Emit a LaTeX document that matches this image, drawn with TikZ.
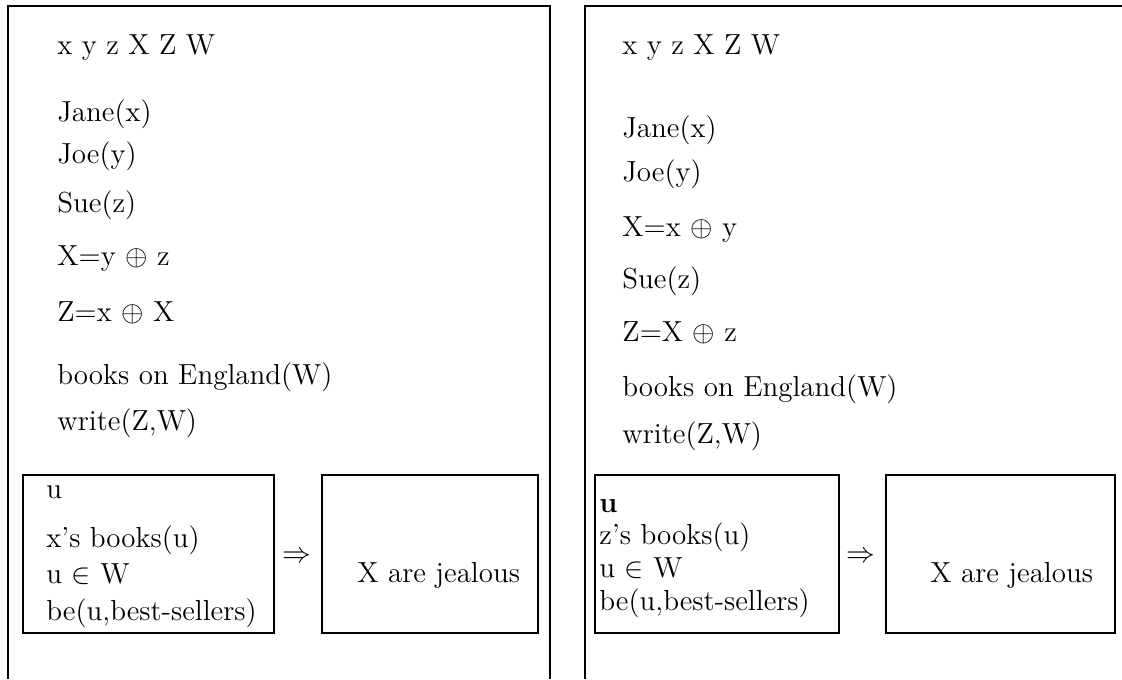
\documentclass[tikz,border=0pt]{standalone}
\usepackage{amsmath,amssymb}
\usetikzlibrary{positioning}
\newcommand{\drsfont}{\fontsize{14.5}{17}\selectfont}
\tikzset{
  panel/.style={line width=1.1pt},
  subbox/.style={draw, line width=1.1pt, inner sep=0pt, anchor=north west},
  cond/.style={anchor=base west, inner sep=0pt},
  every node/.style={font=\drsfont}
}

\begin{document}
\begin{tikzpicture}[x=0.5pt, y=-0.5pt]
    \useasboundingbox (0,0) rectangle (1122,679);
    % left DRS
    \draw[panel] (8,679) -- (8,6) -- (550,6) -- (550,679);
    \node[cond] (lu) at (57,55) {x y z X Z W};
    \node[cond] (l1) at (57,122) {Jane(x)};
    \node[cond] (l2) at (57,164) {Joe(y)};
    \node[cond] (l3) at (57,213) {Sue(z)};
    \node[cond] (l4) at (57,265) {X=y $\oplus$ z};
    \node[cond] (l5) at (57,321) {Z=x $\oplus$ X};
    \node[cond] (l6) at (57,384) {books on England(W)};
    \node[cond] (l7) at (57,430) {write(Z,W)};
    \node[subbox, minimum width=125.5pt, minimum height=79pt] (lant) at (22,474) {};
    \node[subbox, minimum width=108pt, minimum height=79pt] (lcons) at (321,474) {};
    \node[cond] (la0) at (46,498) {u};
    \node[cond] (la1) at (46,547) {x's books(u)};
    \node[cond] (la2) at (46,583) {u $\in$ W};
    \node[cond] (la3) at (46,620) {be(u,best-sellers)};
    \node (limp) at (297,557) {$\Rightarrow$};
    \node[cond] (lc1) at (357,582) {X are jealous};
    % right DRS
    \draw[panel] (585,679) -- (585,6) -- (1122,6);
    \node[cond] (ru) at (622,55) {x y z X Z W};
    \node[cond] (r1) at (622,138) {Jane(x)};
    \node[cond] (r2) at (622,182) {Joe(y)};
    \node[cond] (r3) at (622,236) {X=x $\oplus$ y};
    \node[cond] (r4) at (622,288) {Sue(z)};
    \node[cond] (r5) at (622,341) {Z=X $\oplus$ z};
    \node[cond] (r6) at (622,396) {books on England(W)};
    \node[cond] (r7) at (622,443) {write(Z,W)};
    \node[subbox, minimum width=122pt, minimum height=79pt] (rant) at (594,474) {};
    \node[subbox, minimum width=114.5pt, minimum height=79pt] (rcons) at (885,474) {};
    \node[cond] (ra0) at (599,512) {\textbf{u}};
    \node[cond] (ra1) at (599,544) {z's books(u)};
    \node[cond] (ra2) at (599,577) {u $\in$ W};
    \node[cond] (ra3) at (599,610) {be(u,best-sellers)};
    \node (rimp) at (861,557) {$\Rightarrow$};
    \node[cond] (rc1) at (930,582) {X are jealous};
\end{tikzpicture}
\end{document}
